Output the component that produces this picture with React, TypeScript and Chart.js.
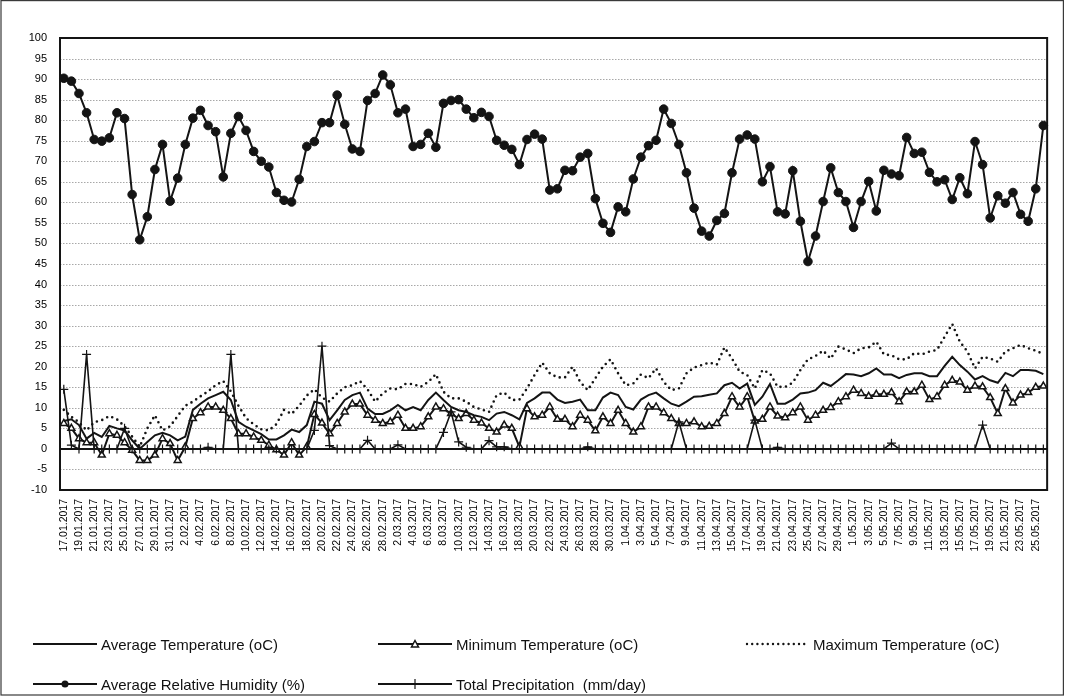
import React, { useEffect, useRef } from "react";
import { Chart, registerables } from "chart.js";

Chart.register(...registerables);

// Daily observation dates
const dates: string[] = [
  "17.01.2017", "18.01.2017", "19.01.2017", "20.01.2017", "21.01.2017", "22.01.2017", "23.01.2017", "24.01.2017",
  "25.01.2017", "26.01.2017", "27.01.2017", "28.01.2017", "29.01.2017", "30.01.2017", "31.01.2017",
  "1.02.2017", "2.02.2017", "3.02.2017", "4.02.2017", "5.02.2017", "6.02.2017", "7.02.2017", "8.02.2017",
  "9.02.2017", "10.02.2017", "11.02.2017", "12.02.2017", "13.02.2017", "14.02.2017", "15.02.2017", "16.02.2017",
  "17.02.2017", "18.02.2017", "19.02.2017", "20.02.2017", "21.02.2017", "22.02.2017", "23.02.2017", "24.02.2017",
  "25.02.2017", "26.02.2017", "27.02.2017", "28.02.2017",
  "1.03.2017", "2.03.2017", "3.03.2017", "4.03.2017", "5.03.2017", "6.03.2017", "7.03.2017", "8.03.2017",
  "9.03.2017", "10.03.2017", "11.03.2017", "12.03.2017", "13.03.2017", "14.03.2017", "15.03.2017", "16.03.2017",
  "17.03.2017", "18.03.2017", "19.03.2017", "20.03.2017", "21.03.2017", "22.03.2017", "23.03.2017", "24.03.2017",
  "25.03.2017", "26.03.2017", "27.03.2017", "28.03.2017", "29.03.2017", "30.03.2017", "31.03.2017",
  "1.04.2017", "2.04.2017", "3.04.2017", "4.04.2017", "5.04.2017", "6.04.2017", "7.04.2017", "8.04.2017",
  "9.04.2017", "10.04.2017", "11.04.2017", "12.04.2017", "13.04.2017", "14.04.2017", "15.04.2017", "16.04.2017",
  "17.04.2017", "18.04.2017", "19.04.2017", "20.04.2017", "21.04.2017", "22.04.2017", "23.04.2017", "24.04.2017",
  "25.04.2017", "26.04.2017", "27.04.2017", "28.04.2017", "29.04.2017", "30.04.2017",
  "1.05.2017", "2.05.2017", "3.05.2017", "4.05.2017", "5.05.2017", "6.05.2017", "7.05.2017", "8.05.2017",
  "9.05.2017", "10.05.2017", "11.05.2017", "12.05.2017", "13.05.2017", "14.05.2017", "15.05.2017", "16.05.2017",
  "17.05.2017", "18.05.2017", "19.05.2017", "20.05.2017", "21.05.2017", "22.05.2017", "23.05.2017", "24.05.2017",
  "25.05.2017", "26.05.2017",
];

// Average temperature (oC)
const avgTemp: number[] = [
  6.8, 7.2, 5.8, 2.5, 3.9, 2.9, 5.6, 5.0, 4.5, 2.1,
  0.0, 1.7, 3.3, 3.9, 3.3, 2.1, 3.0, 9.5, 11.0, 12.3,
  13.1, 13.9, 11.9, 6.6, 5.4, 4.5, 3.6, 2.3, 2.3, 3.3,
  4.7, 4.1, 5.8, 11.5, 11.0, 7.0, 9.4, 11.9, 13.1, 13.7,
  9.8, 8.5, 8.5, 9.4, 10.7, 9.4, 10.2, 9.4, 11.9, 13.7,
  11.9, 10.2, 9.4, 9.0, 8.2, 7.8, 7.0, 8.6, 9.0, 8.2,
  7.2, 11.2, 12.3, 13.7, 13.7, 12.0, 11.2, 11.5, 12.0, 9.4,
  9.4, 12.5, 13.7, 13.1, 10.2, 9.6, 12.0, 13.1, 13.7, 12.3,
  11.0, 10.4, 11.5, 12.7, 12.8, 13.2, 13.5, 15.5, 16.1, 14.7,
  15.9, 10.7, 12.7, 15.8, 11.0, 11.0, 12.0, 13.5, 13.7, 14.3,
  16.1, 15.3, 16.7, 18.2, 18.1, 17.7, 18.4, 19.6, 18.1, 18.1,
  17.2, 18.0, 18.4, 18.4, 17.7, 17.7, 20.2, 22.4, 20.4, 18.8,
  16.9, 17.7, 16.7, 16.1, 18.5, 17.7, 19.2, 19.2, 19.0, 18.2,
];

// Minimum temperature (oC)
const minTemp: number[] = [
  6.2, 5.0, 2.5, 1.5, 1.5, -1.5, 3.7, 3.3, 1.5, -0.3,
  -2.8, -2.8, -1.5, 2.5, 1.3, -2.8, 0.5, 7.4, 8.8, 10.2,
  10.2, 9.4, 7.4, 3.7, 3.7, 2.9, 2.1, 0.9, -0.2, -1.5,
  1.5, -1.5, 0.5, 8.4, 6.3, 3.7, 6.2, 9.0, 10.9, 10.9,
  8.2, 7.0, 6.2, 6.6, 8.2, 5.0, 5.0, 5.4, 7.8, 10.2,
  9.8, 8.6, 7.4, 8.6, 7.0, 6.3, 5.0, 4.1, 5.8, 5.0,
  0.5, 9.8, 7.8, 8.2, 10.2, 7.2, 7.2, 5.4, 8.2, 7.0,
  4.4, 7.8, 6.2, 9.4, 6.2, 4.1, 5.4, 10.2, 10.2, 8.8,
  7.4, 6.2, 6.2, 6.6, 5.4, 5.5, 6.2, 8.6, 12.7, 10.2,
  12.7, 6.8, 7.2, 10.2, 8.0, 7.6, 8.8, 10.2, 7.0, 8.2,
  9.4, 10.1, 11.5, 12.7, 14.3, 13.5, 12.8, 13.3, 13.3, 13.7,
  11.5, 13.9, 13.9, 15.5, 12.0, 12.7, 15.5, 16.7, 16.3, 14.3,
  15.3, 15.1, 12.5, 8.6, 14.7, 11.2, 13.1, 13.7, 15.0, 15.3,
];

// Maximum temperature (oC)
const maxTemp: number[] = [
  9.5, 7.8, 6.5, 4.5, 6.5, 7.0, 8.0, 7.2, 5.5, 3.0,
  0.5, 5.0, 8.2, 4.5, 5.5, 8.0, 10.5, 11.5, 12.8, 14.0,
  15.5, 16.5, 14.0, 10.5, 7.5, 6.0, 4.8, 4.5, 6.0, 9.5,
  8.5, 10.5, 13.0, 14.5, 12.5, 11.5, 13.5, 15.0, 15.5, 16.5,
  14.5, 11.5, 13.5, 14.7, 14.5, 15.8, 15.8, 15.1, 16.3, 18.2,
  13.9, 12.3, 12.3, 11.5, 10.2, 9.6, 9.0, 13.1, 13.7, 11.9,
  12.0, 14.7, 18.0, 21.0, 18.4, 17.4, 17.4, 20.0, 16.3, 14.3,
  17.2, 20.0, 21.8, 18.4, 15.5, 15.9, 18.1, 17.2, 19.6, 16.3,
  14.3, 14.7, 18.4, 19.8, 20.4, 21.0, 20.5, 24.7, 22.0, 18.8,
  18.0, 14.7, 19.2, 18.4, 15.1, 15.1, 16.1, 19.2, 21.8, 22.6,
  23.9, 22.0, 24.9, 24.2, 23.3, 24.5, 24.7, 26.1, 23.0, 22.8,
  21.8, 21.8, 23.3, 23.0, 23.7, 24.1, 27.3, 30.4, 26.1, 23.7,
  19.6, 22.4, 22.0, 21.2, 23.7, 24.5, 25.3, 24.5, 23.9, 23.1,
];

// Average relative humidity (%)
const humidity: number[] = [
  90.2, 89.5, 86.5, 81.8, 75.3, 74.9, 75.7, 81.8, 80.4, 61.9,
  50.9, 56.5, 68.0, 74.1, 60.3, 65.9, 74.1, 80.5, 82.4, 78.7,
  77.2, 66.2, 76.8, 80.9, 77.5, 72.4, 70.0, 68.6, 62.4, 60.5,
  60.1, 65.6, 73.6, 74.8, 79.4, 79.4, 86.1, 79.0, 73.0, 72.4,
  84.8, 86.5, 91.0, 88.6, 81.8, 82.7, 73.6, 74.1, 76.8, 73.4,
  84.1, 84.8, 85.0, 82.7, 80.6, 81.9, 80.9, 75.1, 73.9, 72.9,
  69.2, 75.3, 76.6, 75.4, 63.0, 63.3, 67.8, 67.7, 71.0, 71.9,
  60.9, 54.9, 52.7, 58.9, 57.7, 65.7, 71.0, 73.8, 75.1, 82.7,
  79.2, 74.1, 67.2, 58.6, 53.0, 51.8, 55.6, 57.3, 67.2, 75.4,
  76.4, 75.4, 65.0, 68.7, 57.7, 57.2, 67.7, 55.4, 45.6, 51.8,
  60.2, 68.4, 62.4, 60.2, 53.9, 60.2, 65.1, 57.9, 67.8, 66.9,
  66.5, 75.8, 71.9, 72.2, 67.3, 65.0, 65.5, 60.7, 66.0, 62.1,
  74.8, 69.2, 56.2, 61.6, 59.8, 62.4, 57.1, 55.4, 63.3, 78.7,
];

// Total precipitation (mm/day)
const precipitation: number[] = [
  14.5, 0.9, 0, 23.0, 0, 0, 0, 0, 5.0, 0,
  0, 0, 0, 0, 0, 0, 0, 0, 0, 0.4,
  0, 0, 23.0, 0, 0, 0, 0, 0, 0, 0,
  0, 0, 0, 4.5, 25.0, 0.8, 0, 0, 0, 0,
  2.1, 0, 0, 0, 1.0, 0, 0, 0, 0, 0,
  4.0, 9.0, 1.7, 0.4, 0, 0, 2.0, 0.5, 0.5, 0,
  0, 0, 0, 0, 0, 0, 0, 0, 0, 0.5,
  0, 0, 0, 0, 0, 0, 0, 0, 0, 0,
  0, 6.6, 0, 0, 0, 0, 0, 0, 0, 0,
  0, 7.0, 0, 0, 0.4, 0, 0, 0, 0, 0,
  0, 0, 0, 0, 0, 0, 0, 0, 0, 1.4,
  0, 0, 0, 0, 0, 0, 0, 0, 0, 0,
  0, 5.8, 0, 0, 0, 0, 0, 0, 0, 0,
];

const yMin = -10;
const yMax = 100;
const yStep = 5;

const INK = "#141414";
const LEGEND_FONT = "'Liberation Sans Narrow', 'Liberation Sans', Arial, sans-serif";

// Dotted horizontal grid, solid zero line and the plot frame
const plotFrame = {
  id: "plotFrame",
  beforeDatasetsDraw(chart: any) {
    const { ctx, chartArea: a, scales } = chart;
    const y = scales.y;
    ctx.save();
    ctx.strokeStyle = "#a8a8a8";
    ctx.lineWidth = 1;
    ctx.setLineDash([1.5, 1.5]);
    for (let v = yMin + yStep; v < yMax; v += yStep) {
      if (v === 0) continue;
      const py = Math.round(y.getPixelForValue(v)) + 0.5;
      ctx.beginPath();
      ctx.moveTo(a.left, py);
      ctx.lineTo(a.right, py);
      ctx.stroke();
    }
    ctx.setLineDash([]);
    ctx.strokeStyle = INK;
    ctx.lineWidth = 2;
    const z = Math.round(y.getPixelForValue(0));
    ctx.beginPath();
    ctx.moveTo(a.left, z);
    ctx.lineTo(a.right, z);
    ctx.stroke();
    ctx.restore();
  },
  afterDraw(chart: any) {
    const { ctx, chartArea: a, width, height } = chart;
    ctx.save();
    ctx.strokeStyle = INK;
    ctx.lineWidth = 2;
    ctx.strokeRect(a.left, a.top, a.right - a.left, a.bottom - a.top);
    ctx.lineWidth = 1.2;
    ctx.strokeStyle = "#3a3a3a";
    ctx.strokeRect(1, 0.6, width - 2.6, height - 1.6);
    ctx.restore();
  },
};

function LegendSample({ kind, w }: { kind: string; w: number }) {
  return (
    <svg width={w} height={14} style={{ display: "block" }}>
      {kind === "dotted" ? (
        <line x1={2} y1={7} x2={w - 2} y2={7} stroke={INK} strokeWidth={2.4} strokeDasharray="0 5.2" strokeLinecap="round" />
      ) : (
        <line x1={0} y1={7} x2={w} y2={7} stroke={INK} strokeWidth={2} />
      )}
      {kind === "triangle" && (
        <polygon points={`${w / 2 - 3.5},10 ${w / 2 + 3.5},10 ${w / 2},3.5`} fill="#fff" stroke={INK} strokeWidth={1.5} />
      )}
      {kind === "circle" && <circle cx={w / 2} cy={7} r={3.5} fill={INK} />}
      {kind === "cross" && (
        <line x1={w / 2} y1={2} x2={w / 2} y2={12} stroke={INK} strokeWidth={1.2} />
      )}
    </svg>
  );
}

const legendItems = [
  { text: "Average Temperature (oC)", kind: "line", x: 33, y: 636, w: 64 },
  { text: "Minimum Temperature (oC)", kind: "triangle", x: 378, y: 636, w: 74 },
  { text: "Maximum Temperature (oC)", kind: "dotted", x: 745, y: 636, w: 64 },
  { text: "Average Relative Humidity (%)", kind: "circle", x: 33, y: 676, w: 64 },
  { text: "Total Precipitation  (mm/day)", kind: "cross", x: 378, y: 676, w: 74 },
];

export default function App() {
  const canvasRef = useRef<HTMLCanvasElement | null>(null);

  useEffect(() => {
    document.body.style.margin = "0";
    const canvas = canvasRef.current;
    if (!canvas) return;
    const line = (label: string, data: number[], extra: any) => ({
      label,
      data,
      borderColor: INK,
      backgroundColor: INK,
      borderWidth: 2,
      tension: 0,
      pointRadius: 0,
      ...extra,
    });
    const chart = new Chart(canvas, {
      type: "line",
      data: {
        labels: dates,
        datasets: [
          line("Average Temperature (oC)", avgTemp, {}),
          line("Maximum Temperature (oC)", maxTemp, {
            borderWidth: 2.6,
            borderDash: [0, 5.6],
            borderCapStyle: "round",
          }),
          line("Total Precipitation  (mm/day)", precipitation, {
            borderWidth: 1.6,
            pointStyle: "cross",
            pointRadius: 4.5,
            pointBorderWidth: 1.2,
            pointBorderColor: INK,
          }),
          line("Minimum Temperature (oC)", minTemp, {
            pointStyle: "triangle",
            pointRadius: 4,
            pointBorderWidth: 1.5,
            pointBackgroundColor: "#ffffff",
            pointBorderColor: INK,
          }),
          line("Average Relative Humidity (%)", humidity, {
            pointStyle: "circle",
            pointRadius: 4.3,
            pointBorderWidth: 1,
            pointBackgroundColor: INK,
            pointBorderColor: INK,
          }),
        ],
      },
      options: {
        animation: false,
        responsive: false,
        maintainAspectRatio: false,
        layout: { padding: { left: 0, right: 15, top: 38, bottom: 136 } },
        plugins: { legend: { display: false }, tooltip: { enabled: false } },
        scales: {
          x: {
            type: "category",
            offset: true,
            grid: { display: false, drawTicks: false },
            border: { display: false },
            afterFit: (s: any) => {
              s.height = 70;
            },
            ticks: {
              autoSkip: false,
              minRotation: 90,
              maxRotation: 90,
              padding: 9,
              color: "#000",
              font: { family: "'Liberation Sans', Arial, sans-serif", size: 10.5 },
              callback: (_v: any, i: number) => (i % 2 === 0 ? dates[i] : ""),
            },
          },
          y: {
            min: yMin,
            max: yMax,
            grid: { display: false, drawTicks: false },
            border: { display: false },
            afterFit: (s: any) => {
              s.width = 60;
            },
            ticks: {
              stepSize: yStep,
              padding: 13,
              color: "#000",
              font: { family: "'Liberation Sans', Arial, sans-serif", size: 11 },
            },
          },
        },
      },
      plugins: [plotFrame],
    });
    return () => chart.destroy();
  }, []);

  return (
    <div style={{ position: "relative", width: 1065, height: 696, background: "#fff", overflow: "hidden" }}>
      <canvas ref={canvasRef} width={1065} height={696} style={{ display: "block" }} />
      {legendItems.map((it) => (
        <div
          key={it.text}
          style={{
            position: "absolute",
            left: it.x,
            top: it.y,
            display: "flex",
            alignItems: "center",
            height: 16,
            fontFamily: LEGEND_FONT,
            fontSize: 15,
            color: "#111",
            whiteSpace: "pre",
          }}
        >
          <LegendSample kind={it.kind} w={it.w} />
          <span style={{ marginLeft: 4 }}>{it.text}</span>
        </div>
      ))}
    </div>
  );
}
